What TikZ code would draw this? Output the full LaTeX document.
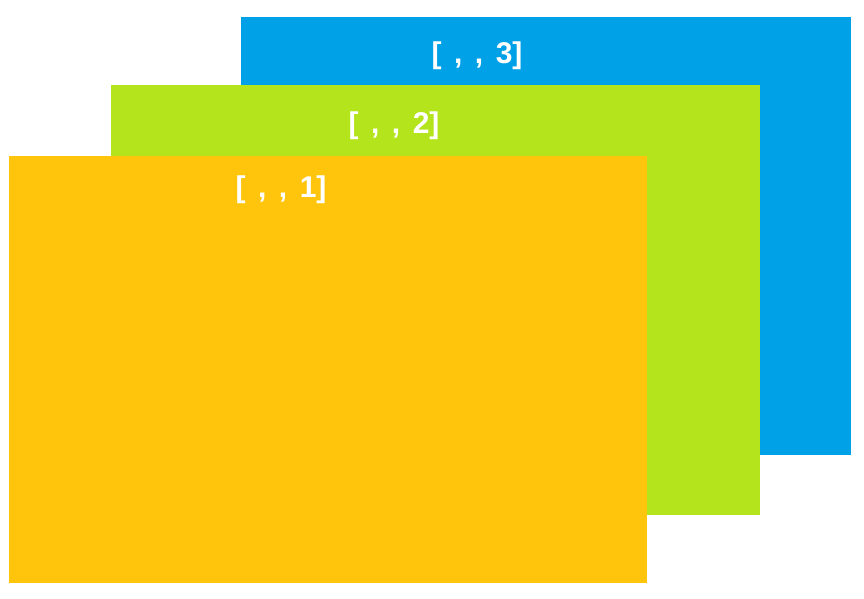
\documentclass[tikz,border=0pt]{standalone}
\usepackage{fontspec}
\setmainfont{Liberation Sans}
\newfontfamily\lblfont[WordSpace=1.5]{Liberation Sans}
\definecolor{sheetblue}{RGB}{0,161,230}
\definecolor{sheetgreen}{RGB}{180,228,28}
\definecolor{sheetyellow}{RGB}{255,197,12}
\tikzset{
  sheet/.style={rectangle, inner sep=0pt, outer sep=0pt},
  lbl/.style={text=white, font=\lblfont\bfseries\fontsize{30}{30}\selectfont}
}
\begin{document}
\begin{tikzpicture}[x=1pt,y=-1pt]
    \useasboundingbox (0,0) rectangle (864,598);
    \node[sheet, fill=sheetblue, minimum width=610pt, minimum height=438pt] (s3) at (546,236) {};
    \node[sheet, fill=sheetgreen, minimum width=649pt, minimum height=430pt] (s2) at (435.5,300) {};
    \node[sheet, fill=sheetyellow, minimum width=638pt, minimum height=427pt] (s1) at (328,369.5) {};

    \node[lbl] (t3) at (477,56) {[ , , 3]};
    \node[lbl] (t2) at (394,126) {[ , , 2]};
    \node[lbl] (t1) at (281,190) {[ , , 1]};
  \end{tikzpicture}
\end{document}
